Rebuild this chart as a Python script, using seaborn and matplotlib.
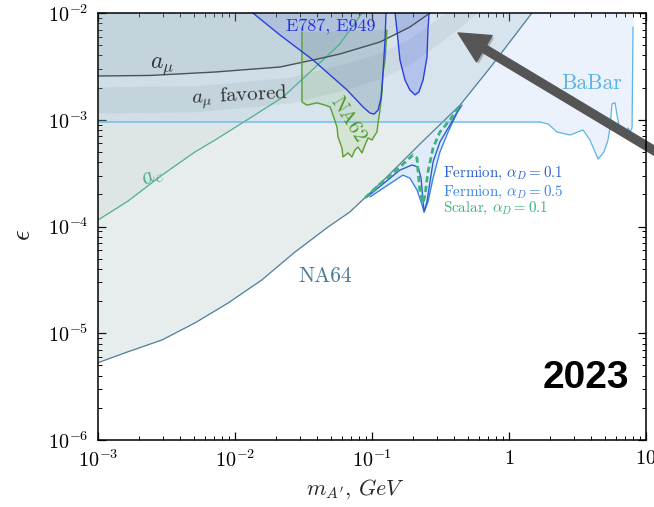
import numpy as np
import matplotlib
matplotlib.use("Agg")
import matplotlib.pyplot as plt
import matplotlib.patheffects as pe
import seaborn as sns
from matplotlib.ticker import LogLocator, NullFormatter

# ---------------- data (mass in GeV, epsilon) ----------------
na64_m = [1.0e-3, 1.65e-3, 2.93e-3, 5.1e-3, 8.9e-3, 1.57e-2, 2.74e-2, 4.78e-2, 6.9e-2, 0.1245, 0.224, 0.439, 0.726, 1.47]
na64_eps = [5.3e-6, 6.7e-6, 8.65e-6, 1.25e-5, 1.92e-5, 3.16e-5, 5.77e-5, 9.9e-5, 1.37e-4, 2.8e-4, 5.93e-4, 1.37e-3, 3.06e-3, 1.0e-2]

ae_m = [1.0e-3, 1.655e-3, 2.93e-3, 5.1e-3, 7.15e-3, 1.29e-2, 2.24e-2, 4.39e-2, 5.83e-2, 8.45e-2]
ae_eps = [1.15e-4, 1.73e-4, 3.03e-4, 4.99e-4, 6.46e-4, 1.04e-3, 1.63e-3, 3.63e-3, 5.13e-3, 1.0e-2]

amu_m = [1.0e-3, 2.4e-3, 7.15e-3, 2.13e-2, 3.71e-2, 5.83e-2, 0.1143, 0.189, 0.265]
amu_eps = [2.57e-3, 2.60e-3, 2.80e-3, 3.12e-3, 3.63e-3, 4.13e-3, 5.35e-3, 7.39e-3, 1.0e-2]

fav_m = [1.0e-3, 5.56e-3, 2.52e-2, 5.83e-2, 0.1143, 0.189, 0.265, 0.439, 0.859]
fav_hi = [2.03e-3, 2.10e-3, 2.51e-3, 3.26e-3, 4.22e-3, 5.83e-3, 7.88e-3, 1.29e-2, 2.53e-2]
fav_lo = [1.156e-3, 1.19e-3, 1.44e-3, 1.86e-3, 2.41e-3, 3.33e-3, 4.50e-3, 7.39e-3, 1.47e-2]

babar_m = [1.0e-3, 1.68, 1.93, 2.24, 2.79, 3.47, 3.90, 4.47, 4.93, 5.28, 5.46, 5.65, 5.94, 6.14,
           6.45, 6.79, 7.26, 7.39, 7.64, 7.91, 8.04]
babar_eps = [9.53e-4, 9.53e-4, 9.12e-4, 7.68e-4, 7.20e-4, 8.02e-4, 6.46e-4, 4.28e-4, 4.99e-4, 6.46e-4,
             8.55e-4, 1.41e-3, 1.44e-3, 1.11e-3, 8.02e-4, 7.36e-4, 7.05e-4, 8.38e-4, 7.68e-4, 8.38e-4, 7.39e-3]

e787_m = [1.35e-2, 2.13e-2, 3.71e-2, 6.58e-2, 8.59e-2, 9.66e-2, 0.1035, 0.1107, 0.1164, 0.1203, 0.1245, 0.1265]
e787_eps = [1.0e-2, 6.22e-3, 3.63e-3, 1.90e-3, 1.32e-3, 1.156e-3, 1.13e-3, 1.23e-3, 1.60e-3, 2.74e-3, 5.58e-3, 1.0e-2]

e949_m = [0.1473, 0.152, 0.160, 0.174, 0.189, 0.206, 0.220, 0.236, 0.252, 0.256, 0.261]
e949_eps = [1.0e-2, 6.93e-3, 3.63e-3, 2.36e-3, 1.90e-3, 1.71e-3, 1.82e-3, 2.36e-3, 3.87e-3, 6.93e-3, 1.0e-2]

na62_m = [3.08e-2, 3.08e-2, 3.35e-2, 3.97e-2, 4.54e-2, 4.94e-2, 5.19e-2, 5.55e-2, 5.65e-2, 6.04e-2, 6.14e-2,
          6.68e-2, 7.14e-2, 7.51e-2, 7.90e-2, 8.45e-2, 8.89e-2, 9.35e-2, 0.100, 0.105, 0.1087, 0.1107,
          0.1143, 0.1183, 0.1203, 0.1245, 0.1286]
na62_eps = [6.64e-3, 1.47e-3, 1.37e-3, 1.44e-3, 1.37e-3, 1.32e-3, 1.11e-3, 8.55e-4, 6.90e-4, 5.43e-4, 4.48e-4,
            4.89e-4, 4.48e-4, 5.21e-4, 5.56e-4, 4.89e-4, 5.80e-4, 6.75e-4, 6.46e-4, 7.20e-4, 7.68e-4, 9.33e-4,
            1.23e-3, 1.78e-3, 2.74e-3, 3.63e-3, 6.93e-3]

scalar01_m = [8.89e-2, 0.1143, 0.160, 0.199, 0.213, 0.217, 0.224, 0.236, 0.244, 0.256, 0.279, 0.313, 0.371, 0.425]
scalar01_eps = [1.85e-4, 2.50e-4, 3.61e-4, 4.68e-4, 4.38e-4, 3.24e-4, 2.10e-4, 1.66e-4, 1.97e-4, 3.24e-4,
                5.43e-4, 7.68e-4, 9.96e-4, 1.29e-3]

ferm01_m = [9.20e-2, 0.160, 0.196, 0.217, 0.228, 0.236, 0.240, 0.252, 0.265, 0.279, 0.313, 0.371, 0.439]
ferm01_eps = [1.89e-4, 3.38e-4, 3.77e-4, 3.61e-4, 2.84e-4, 1.70e-4, 1.37e-4, 1.70e-4, 2.61e-4, 4.02e-4,
              6.19e-4, 8.93e-4, 1.32e-3]

ferm05_m = [9.66e-2, 0.160, 0.168, 0.189, 0.213, 0.232, 0.240, 0.256, 0.279, 0.313, 0.359, 0.417, 0.454]
ferm05_eps = [1.89e-4, 2.91e-4, 3.03e-4, 2.84e-4, 2.20e-4, 1.59e-4, 1.37e-4, 1.70e-4, 2.84e-4, 4.99e-4,
              7.68e-4, 1.156e-3, 1.37e-3]

x_ticks = [1e-3, 1e-2, 1e-1, 1, 10]
x_ticklabels = [r"$10^{-3}$", r"$10^{-2}$", r"$10^{-1}$", r"$1$", r"$10$"]
y_ticks = [1e-6, 1e-5, 1e-4, 1e-3, 1e-2]
y_ticklabels = [r"$10^{-6}$", r"$10^{-5}$", r"$10^{-4}$", r"$10^{-3}$", r"$10^{-2}$"]

# ---------------- style ----------------
sns.set_theme(style="ticks")
plt.rcParams.update({
    "font.family": ["cmr10", "DejaVu Serif"],
    "mathtext.fontset": "cm",
    "axes.unicode_minus": False,
    "axes.formatter.use_mathtext": True,
})

C_NA64 = "#4f7f9c"
C_AE = "#4fb08f"
C_BABAR = "#5cb5e8"
C_E787 = "#2a3fe0"
C_NA62 = "#5a9e33"
C_AMU = "#4a5256"
C_F01 = "#2c5fcf"
C_F05 = "#3c84ea"
C_SC = "#3db37a"

fig = plt.figure(figsize=(6.54, 5.07), dpi=100)
ax = fig.add_axes([98 / 654, (507 - 440) / 507, 548 / 654, 427 / 507])
ax.set_xscale("log")
ax.set_yscale("log")
ax.set_xlim(1e-3, 10)
ax.set_ylim(1e-6, 1e-2)
top = 1e-2

# fills
ax.fill_between(na64_m, na64_eps, top, color="#5f8a87", alpha=0.15, lw=0, zorder=1)
ax.fill_between(ae_m, ae_eps, top, color="#5f8a87", alpha=0.07, lw=0, zorder=1.1)
ax.fill_between(babar_m, babar_eps, top, color="#a6c8f0", alpha=0.22, lw=0, zorder=1.2)
ax.fill_between(amu_m, amu_eps, top, color="#34495e", alpha=0.07, lw=0, zorder=1.3)
ax.fill_between(fav_m, fav_lo, fav_hi, color="#34495e", alpha=0.07, lw=0, zorder=1.4)
ax.fill(na62_m, na62_eps, color="#6aaa3a", alpha=0.13, lw=0, zorder=1.5)
ax.fill(e787_m, e787_eps, color="#2040d0", alpha=0.12, lw=0, zorder=1.6)
ax.fill(e949_m, e949_eps, color="#3050e8", alpha=0.22, lw=0, zorder=1.6)
na64_at_f = 10 ** np.interp(np.log10(ferm05_m), np.log10(na64_m), np.log10(na64_eps))
ax.fill_between(ferm05_m, ferm05_eps, na64_at_f, color="#5a9be8", alpha=0.18, lw=0, zorder=1.7)

# lines
def line(xs, ys, color, lw, **kw):
    sns.lineplot(x=xs, y=ys, sort=False, estimator=None, color=color, lw=lw, ax=ax, **kw)

line(na64_m, na64_eps, C_NA64, 0.9, zorder=3)
line(ae_m, ae_eps, C_AE, 0.9, zorder=3)
line(babar_m, babar_eps, C_BABAR, 0.9, zorder=3)
line(amu_m, amu_eps, C_AMU, 1.0, zorder=3)
line(na62_m, na62_eps, C_NA62, 1.0, zorder=3)
line(e787_m, e787_eps, C_E787, 1.0, zorder=3)
line(e949_m, e949_eps, C_E787, 1.0, zorder=3)
line(ferm05_m, ferm05_eps, C_F05, 1.0, zorder=4)
line(ferm01_m, ferm01_eps, C_F01, 1.0, zorder=4)
line(scalar01_m, scalar01_eps, C_SC, 2.0, dashes=(2.2, 1.3), zorder=5)

# labels
ax.text(2.93e-3, 3.19e-3, r"$a_\mu$", color="#333333", fontsize=17, ha="center", va="center", zorder=6)
ax.text(1.09e-2, 1.64e-3, r"$a_\mu$ favored", color="#333333", fontsize=15, ha="center", va="center",
        rotation=3, zorder=6)
ax.text(2.48e-3, 2.9e-4, r"$a_e$", color=C_AE, fontsize=17, ha="center", va="center", rotation=28, zorder=6)
ax.text(4.54e-2, 3.43e-5, "NA64", color="#4b7a99", fontsize=15.5, ha="center", va="center", zorder=6)
ax.text(4.04, 2.21e-3, "BaBar", color="#5ab4e6", fontsize=15.5, ha="center", va="center", zorder=6)
ax.text(5.02e-2, 7.55e-3, "E787, E949", color="#2233dd", fontsize=13, ha="center", va="center", zorder=6)
ax.text(6.68e-2, 9.96e-4, "NA62", color="#4a9a2a", fontsize=14.5, ha="center", va="center", rotation=-58, zorder=6)
ax.text(0.330, 3.17e-4, r"Fermion, $\alpha_D = 0.1$", color=C_F01, fontsize=10.8, ha="left", va="center", zorder=6)
ax.text(0.330, 2.10e-4, r"Fermion, $\alpha_D = 0.5$", color=C_F05, fontsize=10.8, ha="left", va="center", zorder=6)
ax.text(0.330, 1.46e-4, r"Scalar, $\alpha_D = 0.1$", color=C_SC, fontsize=10.8, ha="left", va="center", zorder=6)
ax.text(0.890, 0.146, "2023", transform=ax.transAxes, fontsize=28, fontweight="bold",
        family=["Liberation Sans", "DejaVu Sans"], color="black", ha="center", va="center", zorder=6)

# arrow
ann = ax.annotate("", xy=(0.425, 6.5e-3), xytext=(24.8, 2.84e-4), annotation_clip=False,
                  arrowprops=dict(arrowstyle="simple,head_length=1.1,head_width=1.1,tail_width=0.29",
                                  color="#555555", mutation_scale=20, shrinkA=0, shrinkB=0), zorder=8)
ann.arrow_patch.set_path_effects([pe.SimplePatchShadow(offset=(1.5, -1.5), alpha=0.25), pe.Normal()])

# axes formatting
ax.set_xticks(x_ticks)
ax.set_xticklabels(x_ticklabels)
ax.set_yticks(y_ticks)
ax.set_yticklabels(y_ticklabels)
ax.xaxis.set_minor_locator(LogLocator(base=10, subs=np.arange(2, 10)))
ax.yaxis.set_minor_locator(LogLocator(base=10, subs=np.arange(2, 10)))
ax.xaxis.set_minor_formatter(NullFormatter())
ax.yaxis.set_minor_formatter(NullFormatter())
ax.tick_params(which="both", direction="in", top=True, right=True, colors="black")
ax.tick_params(which="major", length=6, width=0.9, labelsize=14.5)
ax.tick_params(which="minor", length=3, width=0.7)
ax.tick_params(axis="x", which="major", pad=7)
ax.tick_params(axis="y", which="major", pad=7)
for s in ax.spines.values():
    s.set_linewidth(1.1)
    s.set_color("black")
    s.set_zorder(9)

ax.set_xlabel(r"$m_{A'}$, $GeV$", fontsize=16)
ax.set_ylabel(r"$\epsilon$", fontsize=19)
ax.xaxis.set_label_coords(0.469, -0.088)
ax.yaxis.set_label_coords(-0.115, 0.48)

fig.savefig("out.png", dpi=100)
